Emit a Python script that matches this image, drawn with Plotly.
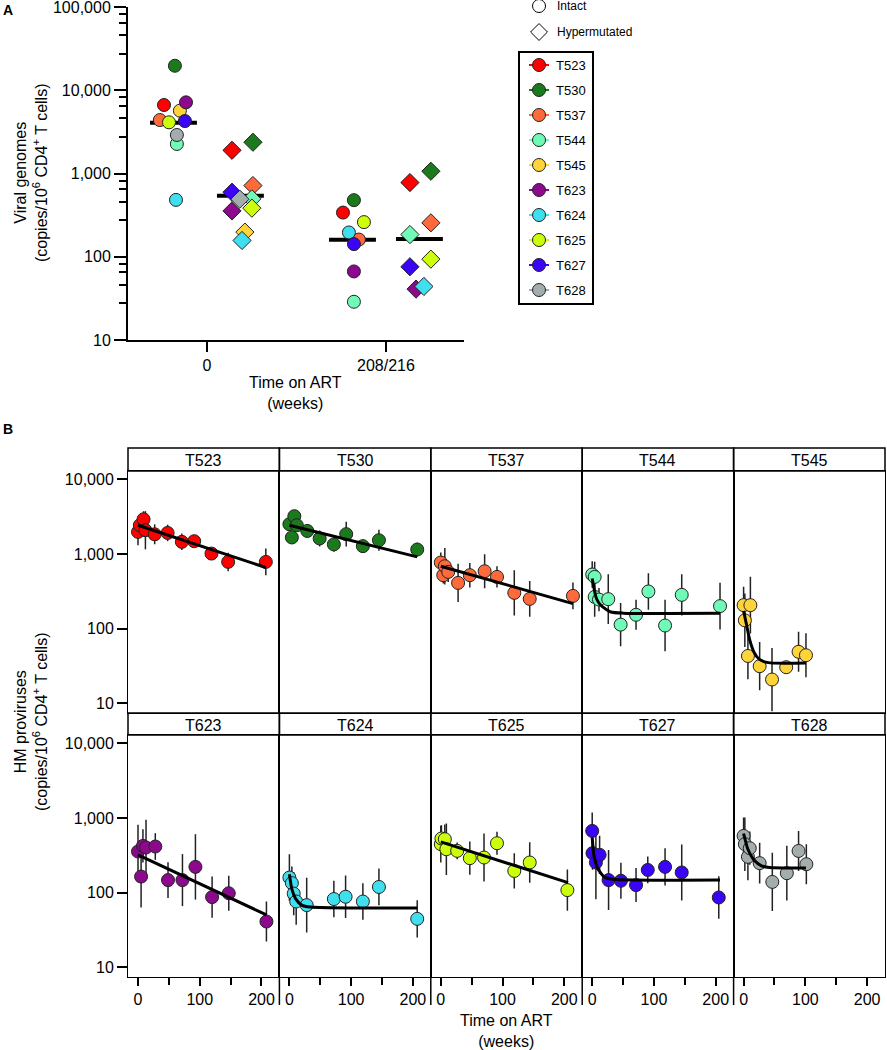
import plotly.graph_objects as go

W, H = 887, 1050


def px(x):  # pixel -> paper x
    return x / W


def py(y):  # pixel -> paper y
    return 1 - y / H


patients = ['T523', 'T530', 'T537', 'T544', 'T545', 'T623', 'T624', 'T625', 'T627', 'T628']
colors = ['#FF0000', '#1B7A1B', '#FF6A3A', '#70FAB8', '#FFD43A',
          '#8C088C', '#40DFF0', '#CCFF0A', '#3A05F5', '#A3ADAD']

# ---- panel A : viral genomes, week 0 and 208/216 ----
time_labels = ['0', '208/216']
intact_wk0 = [6670, 19760, 4400, 2270, 5700, 7180, 483, 4130, 4280, 2910]
hyper_wk0 = [1905, 2380, 718, 497, 198, 356, 157, 384, 597, 492]
intact_wk208 = [340, 479, 161, 28.8, None, 66.7, 196, 261, 142, None]
hyper_wk208 = [780, 1067, 256, 185, None, 40.9, 44, 93.7, 75.9, None]
median_intact = [4090, 160]
median_hyper = [540, 164]
# horizontal scatter offsets of each point
jit_intact_wk0 = [-0.240, -0.179, -0.263, -0.168, -0.151, -0.117, -0.173, -0.212, -0.123, -0.168]
jit_hyper_wk0 = [0.140, 0.257, 0.257, 0.251, 0.212, 0.140, 0.196, 0.251, 0.140, 0.184]
jit_intact_wk208 = [-0.240, -0.179, -0.151, -0.179, 0, -0.179, -0.207, -0.123, -0.179, 0]
jit_hyper_wk208 = [0.134, 0.251, 0.251, 0.134, 0, 0.168, 0.212, 0.251, 0.134, 0]

# ---- panel B : HM proviruses over time (weeks, value, error fold) ----
t523_wk = [0, 3, 9, 12, 27, 48, 71, 91, 119, 146, 207]
t523_hm = [1970, 2420, 2910, 2075, 1830, 1910, 1450, 1480, 1010, 782, 782]
t523_err = [1.51, 1.36, 1.28, 1.80, 1.36, 1.29, 1.29, 1.20, 1.20, 1.33, 1.51]
t523_fit_wk = [0, 207]
t523_fit = [2420, 658]

t530_wk = [0, 4, 8, 12, 29, 49, 72, 92, 119, 145, 207]
t530_hm = [2500, 1660, 3200, 2420, 2030, 1610, 1340, 1840, 1270, 1525, 1145]
t530_err = [1.20, 1.17, 1.13, 1.20, 1.23, 1.28, 1.25, 1.46, 1.23, 1.38, 1.23]
t530_fit_wk = [0, 207]
t530_fit = [2420, 912]

t537_wk = [0, 4, 6.5, 12, 28, 47, 71, 91, 119, 144, 214]
t537_hm = [767, 519, 684, 574, 409, 519, 586, 492, 301, 250, 274]
t537_err = [1.36, 1.29, 1.76, 1.36, 1.80, 1.46, 1.69, 1.39, 2.01, 1.74, 1.51]
t537_fit_wk = [0, 214]
t537_fit = [684, 216]

t544_wk = [0, 4, 4, 11, 26, 46, 71, 91, 118, 145, 207]
t544_hm = [530, 492, 266, 245, 248, 113, 153, 314, 110, 283, 200]
t544_err = [1.51, 1.59, 1.85, 1.43, 2.16, 1.95, 1.59, 1.76, 2.21, 1.89, 2.05]
t544_fit_wk = [0, 3, 6, 10, 17, 30, 50, 207]
t544_fit = [468, 344, 266, 225, 195, 167, 161, 160]

t545_wk = [0, 2, 7, 11, 26, 46, 69, 89, 101]
t545_hm = [206, 129, 43, 206, 31.4, 20.8, 30.4, 48.9, 44]
t545_err = [1.76, 2.28, 2.05, 2.40, 2.10, 2.65, 1.23, 1.85, 1.97]
t545_fit_wk = [0, 5, 10, 17, 25, 40, 101]
t545_fit = [173, 110, 70, 48, 39, 35, 34.7]

t623_wk = [0, 5, 8, 13, 28, 48.6, 72, 93, 120, 147, 208]
t623_hm = [355, 164, 422, 402, 414, 147, 147, 221, 87, 98, 41]
t623_err = [2.28, 2.60, 1.67, 2.35, 1.51, 1.74, 2.23, 2.74, 1.89, 1.71, 1.85]
t623_fit_wk = [0, 208]
t623_fit = [320, 50.3]

t624_wk = [0, 4, 7, 11, 28, 72, 91, 119, 145, 207]
t624_hm = [159, 134, 97, 76, 68, 82, 88, 76, 119, 44.5]
t624_err = [2.05, 1.67, 1.95, 2.05, 2.32, 1.76, 1.93, 1.76, 1.76, 1.78]
t624_fit_wk = [0, 4, 10, 20, 34, 207]
t624_fit = [176, 111, 83, 68, 64, 62]

t625_wk = [0, 1, 6.5, 9, 26.5, 47, 70, 91, 119, 144, 205]
t625_hm = [445, 530, 519, 381, 362, 289, 295, 458, 195, 253, 108]
t625_err = [1.76, 1.51, 1.57, 2.21, 1.29, 1.67, 2.10, 1.43, 1.72, 1.87, 1.89]
t625_fit_wk = [0, 206]
t625_fit = [477, 136]

t627_wk = [0, 0.5, 6, 12, 26.5, 46.5, 71, 90, 118, 145, 205]
t627_hm = [670, 337, 253, 320, 147, 144, 126, 201, 221, 186, 86]
t627_err = [1.76, 1.67, 3.10, 1.80, 2.52, 1.74, 1.69, 1.51, 1.78, 2.37, 1.93]
t627_fit_wk = [0, 3, 9, 19.5, 33, 207]
t627_fit = [546, 310, 210, 162, 151, 147]

t628_wk = [0, 2, 7, 10, 26, 46.5, 70, 89, 101.6]
t628_hm = [574, 445, 301, 393, 248, 139, 182, 361, 240]
t628_err = [1.76, 2.28, 2.05, 1.67, 1.87, 2.45, 2.32, 1.85, 1.85]
t628_fit_wk = [0, 7, 18, 29, 42, 101]
t628_fit = [618, 381, 266, 228, 217, 214]

panel_b = [
    (t523_wk, t523_hm, t523_err, t523_fit_wk, t523_fit),
    (t530_wk, t530_hm, t530_err, t530_fit_wk, t530_fit),
    (t537_wk, t537_hm, t537_err, t537_fit_wk, t537_fit),
    (t544_wk, t544_hm, t544_err, t544_fit_wk, t544_fit),
    (t545_wk, t545_hm, t545_err, t545_fit_wk, t545_fit),
    (t623_wk, t623_hm, t623_err, t623_fit_wk, t623_fit),
    (t624_wk, t624_hm, t624_err, t624_fit_wk, t624_fit),
    (t625_wk, t625_hm, t625_err, t625_fit_wk, t625_fit),
    (t627_wk, t627_hm, t627_err, t627_fit_wk, t627_fit),
    (t628_wk, t628_hm, t628_err, t628_fit_wk, t628_fit),
]

FONT = 'Liberation Sans, Arial, sans-serif'
MK_LINE = dict(color='#222222', width=1)

fig = go.Figure()
shapes = []
annotations = []


def note(text, x, y, size=16, xanchor='center', yanchor='middle', xref='paper', yref='paper', **kw):
    d = dict(text=text, x=x, y=y, xref=xref, yref=yref, xanchor=xanchor, yanchor=yanchor,
             showarrow=False, font=dict(size=size, color='black', family=FONT))
    d.update(kw)
    annotations.append(d)


# ---------------- panel A ----------------
for c in range(2):
    fig.add_trace(go.Scatter(x=[c - 0.318, c - 0.056], y=[median_intact[c]] * 2, mode='lines',
                             line=dict(color='black', width=4), showlegend=False, hoverinfo='skip'))
    fig.add_trace(go.Scatter(x=[c + 0.056, c + 0.318], y=[median_hyper[c]] * 2, mode='lines',
                             line=dict(color='black', width=4), showlegend=False, hoverinfo='skip'))

for i, p in enumerate(patients):
    xs, ys = [], []
    for c, (vals, jit) in enumerate([(intact_wk0, jit_intact_wk0), (intact_wk208, jit_intact_wk208)]):
        if vals[i] is not None:
            xs.append(c + jit[i])
            ys.append(vals[i])
    fig.add_trace(go.Scatter(x=xs, y=ys, mode='markers', name=p, showlegend=False,
                             marker=dict(symbol='circle', size=13, color=colors[i], line=MK_LINE)))
for i, p in enumerate(patients):
    xs, ys = [], []
    for c, (vals, jit) in enumerate([(hyper_wk0, jit_hyper_wk0), (hyper_wk208, jit_hyper_wk208)]):
        if vals[i] is not None:
            xs.append(c + jit[i])
            ys.append(vals[i])
    fig.add_trace(go.Scatter(x=xs, y=ys, mode='markers', name=p, showlegend=False,
                             marker=dict(symbol='diamond', size=14, color=colors[i], line=MK_LINE)))

# ---------------- legend (drawn on its own hidden axes) ----------------
rows = list(range(len(patients)))
for i, p in enumerate(patients):
    fig.add_trace(go.Scatter(x=[0.071, 0.213], y=[i, i], mode='lines', xaxis='x12', yaxis='y12',
                             line=dict(color=colors[i], width=2), showlegend=False, hoverinfo='skip'))
    note(p, 0.248, i, size=13, xanchor='left', xref='x12', yref='y12')
fig.add_trace(go.Scatter(x=[0.142] * len(rows), y=rows, mode='markers', xaxis='x12', yaxis='y12',
                         marker=dict(symbol='circle', size=13, color=colors, line=MK_LINE),
                         showlegend=False, hoverinfo='skip', cliponaxis=False))
fig.add_trace(go.Scatter(x=[0.142], y=[-2.36], mode='markers', xaxis='x12', yaxis='y12', cliponaxis=False,
                         marker=dict(symbol='circle', size=13, color='white', line=dict(color='black', width=1)),
                         showlegend=False, hoverinfo='skip'))
fig.add_trace(go.Scatter(x=[0.142], y=[-1.32], mode='markers', xaxis='x12', yaxis='y12', cliponaxis=False,
                         marker=dict(symbol='diamond', size=13, color='white', line=dict(color='black', width=1)),
                         showlegend=False, hoverinfo='skip'))
note('Intact', 0.255, -2.36, size=12, xanchor='left', xref='x12', yref='y12')
note('Hypermutated', 0.255, -1.32, size=12, xanchor='left', xref='x12', yref='y12')
shapes.append(dict(type='rect', xref='paper', yref='paper', x0=px(519), x1=px(593),
                   y0=py(304), y1=py(52), line=dict(color='black', width=2)))

# ---------------- panel B ----------------
col_x = [128 + 151.4 * k for k in range(6)]
row_plot = [(471, 713), (735, 977)]
row_strip = [(448, 471), (713, 735)]

for k, p in enumerate(patients):
    r, c = divmod(k, 5)
    n = k + 2
    wk, hm, err, fwk, fit = panel_b[k]
    fig.add_trace(go.Scatter(
        x=wk, y=hm, mode='markers', xaxis='x%d' % n, yaxis='y%d' % n, showlegend=False, name=p,
        marker=dict(symbol='circle', size=13, color=colors[k], line=MK_LINE),
        error_y=dict(type='data', symmetric=False,
                     array=[v * f - v for v, f in zip(hm, err)],
                     arrayminus=[v - v / f for v, f in zip(hm, err)],
                     color='#222222', thickness=1.5, width=0)))
    fig.add_trace(go.Scatter(
        x=fwk, y=fit, mode='lines', xaxis='x%d' % n, yaxis='y%d' % n, showlegend=False,
        line=dict(color='black', width=3, shape='spline', smoothing=0.6), hoverinfo='skip'))

    x0, x1 = col_x[c], col_x[c + 1]
    y0, y1 = row_plot[r]
    fig.layout['xaxis%d' % n] = dict(
        domain=[px(x0), px(x1)], anchor='y%d' % n, range=[-16.2, 229], automargin=False,
        showline=True, mirror=True, linecolor='black', linewidth=1,
        showgrid=False, zeroline=False,
        tickmode='array', tickvals=[0, 100, 200], ticktext=['0', '100', '200'],
        ticks='outside' if r == 1 else '', ticklen=8, tickwidth=1.5, tickcolor='black',
        showticklabels=(r == 1),
        minor=dict(tickmode='array', tickvals=[50, 150], ticks='outside' if r == 1 else '',
                   ticklen=7, tickwidth=1.5, tickcolor='black'),
        tickfont=dict(size=16, color='black', family=FONT))
    fig.layout['yaxis%d' % n] = dict(
        domain=[py(y1), py(y0)], anchor='x%d' % n, type='log', range=[0.87, 4.11], automargin=False,
        showline=True, mirror=True, linecolor='black', linewidth=1,
        showgrid=False, zeroline=False,
        tickmode='array', tickvals=[10, 100, 1000, 10000], ticktext=['10', '100', '1,000', '10,000'],
        ticks='outside' if c == 0 else '', ticklen=10, tickwidth=1.5, tickcolor='black',
        showticklabels=(c == 0),
        tickfont=dict(size=16, color='black', family=FONT))

    s0, s1 = row_strip[r]
    shapes.append(dict(type='rect', xref='paper', yref='paper', x0=px(x0), x1=px(x1),
                       y0=py(s1), y1=py(s0), line=dict(color='black', width=1.5)))
    note(p, px((x0 + x1) / 2), py((s0 + s1) / 2 + 1))

# separators below the bottom row
for xx in col_x[1:5]:
    shapes.append(dict(type='line', xref='paper', yref='paper', x0=px(xx), x1=px(xx),
                       y0=py(977), y1=py(1005), line=dict(color='black', width=1.5)))

ytitle = 'copies/10<sup>6</sup> CD4<sup>+</sup> T cells'
note('<b>A</b>', px(1), py(10), size=14, xanchor='left')
note('<b>B</b>', px(1), py(429), size=14, xanchor='left')
note('Viral genomes<br>(' + ytitle + ')', px(31), py(173), textangle=-90)
note('Time on ART<br>(weeks)', px(295), py(393))
note('HM proviruses<br>(' + ytitle + ')', px(31), py(722), textangle=-90)
note('Time on ART<br>(weeks)', px(507), py(1031))

fig.update_layout(
    template='none',
    width=W, height=H, margin=dict(l=0, r=0, t=0, b=0, autoexpand=False),
    plot_bgcolor='white', paper_bgcolor='white',
    font=dict(family=FONT, size=16, color='black'),
    showlegend=False,
    xaxis=dict(domain=[px(128), px(464)], anchor='y', range=[-0.441, 1.436], automargin=False,
               showline=True, linecolor='black', linewidth=2, showgrid=False, zeroline=False,
               tickmode='array', tickvals=[0, 1], ticktext=time_labels,
               ticks='outside', ticklen=10, tickwidth=2, tickcolor='black',
               tickfont=dict(size=16, color='black')),
    yaxis=dict(domain=[py(340), py(7)], anchor='x', type='log', range=[1, 5.002], automargin=False,
               showline=True, linecolor='black', linewidth=2, showgrid=False, zeroline=False,
               tickmode='array', tickvals=[10, 100, 1000, 10000, 100000],
               ticktext=['10', '100', '1,000', '10,000', '100,000'],
               ticks='outside', ticklen=12, tickwidth=2, tickcolor='black',
               ticklabeloverflow='allow',
               minor=dict(tickmode='array',
                          tickvals=[m * 10 ** d for d in range(1, 5) for m in (2.75, 4.6, 6.5, 8.25)],
                          ticks='outside', ticklen=7, tickwidth=2, tickcolor='black'),
               tickfont=dict(size=16, color='black')),
    xaxis12=dict(domain=[px(519), px(660)], anchor='y12', range=[0, 1], visible=False),
    yaxis12=dict(domain=[py(304), py(0)], anchor='x12', range=[9.56, -2.6], visible=False),
    shapes=shapes,
    annotations=annotations,
)

# page body has a default 8px margin; remove it so the figure fills the window
fig.write_html("out.html", config={'displayModeBar': False},
               post_script="document.body.style.margin='0px';")
